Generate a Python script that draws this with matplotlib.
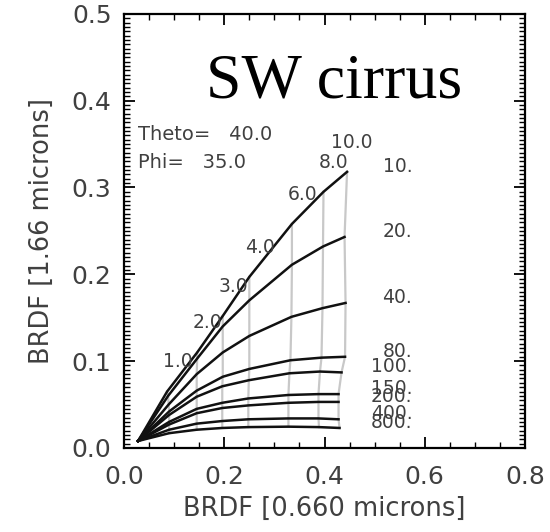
import matplotlib
matplotlib.use("Agg")
import matplotlib.pyplot as plt
from matplotlib.ticker import MultipleLocator, FormatStrFormatter

# Look-up table: BRDF at 0.660 um (x) vs 1.66 um (y) for each effective radius,
# sampled at the optical depths in TAU (first point is the clear-sky surface).
TAU = [0.0, 1.0, 2.0, 3.0, 4.0, 6.0, 8.0, 10.0]
TAU_LABELS = ["1.0", "2.0", "3.0", "4.0", "6.0", "8.0", "10.0"]

RADII = [10, 20, 40, 80, 100, 150, 200, 400, 800]
RADIUS_LABELS = ["10.", "20.", "40.", "80.", "100.", "150.", "200.", "400.", "800."]

x_r10 = [0.028, 0.086, 0.146, 0.197, 0.250, 0.335, 0.398, 0.445]
y_r10 = [0.008, 0.065, 0.110, 0.152, 0.197, 0.258, 0.295, 0.318]
x_r20 = [0.028, 0.088, 0.146, 0.197, 0.250, 0.335, 0.397, 0.440]
y_r20 = [0.008, 0.060, 0.103, 0.140, 0.170, 0.211, 0.232, 0.243]
x_r40 = [0.028, 0.089, 0.145, 0.197, 0.250, 0.334, 0.396, 0.442]
y_r40 = [0.008, 0.050, 0.085, 0.110, 0.129, 0.151, 0.161, 0.167]
x_r80 = [0.028, 0.090, 0.145, 0.197, 0.250, 0.332, 0.394, 0.441]
y_r80 = [0.008, 0.042, 0.066, 0.082, 0.091, 0.101, 0.104, 0.105]
x_r100 = [0.028, 0.090, 0.145, 0.196, 0.249, 0.330, 0.391, 0.434]
y_r100 = [0.008, 0.038, 0.059, 0.071, 0.078, 0.086, 0.088, 0.087]
x_r150 = [0.028, 0.090, 0.145, 0.196, 0.248, 0.328, 0.388, 0.428]
y_r150 = [0.008, 0.030, 0.045, 0.052, 0.057, 0.061, 0.062, 0.062]
x_r200 = [0.028, 0.090, 0.145, 0.196, 0.248, 0.328, 0.388, 0.428]
y_r200 = [0.008, 0.027, 0.040, 0.046, 0.049, 0.052, 0.053, 0.053]
x_r400 = [0.028, 0.090, 0.145, 0.196, 0.248, 0.328, 0.388, 0.428]
y_r400 = [0.008, 0.021, 0.028, 0.031, 0.033, 0.034, 0.034, 0.033]
x_r800 = [0.028, 0.090, 0.145, 0.196, 0.248, 0.328, 0.389, 0.430]
y_r800 = [0.008, 0.017, 0.021, 0.023, 0.024, 0.0245, 0.024, 0.023]

XS = [x_r10, x_r20, x_r40, x_r80, x_r100, x_r150, x_r200, x_r400, x_r800]
YS = [y_r10, y_r20, y_r40, y_r80, y_r100, y_r150, y_r200, y_r400, y_r800]

THETA0 = 40.0
PHI = 35.0

TEXT_C = "#404040"
GRAY = "#c8c8c8"

plt.rcParams.update({
    "font.family": "DejaVu Sans",
    "xtick.direction": "in",
    "ytick.direction": "in",
    "xtick.top": True,
    "ytick.right": True,
})

fig = plt.figure(figsize=(5.5, 5.32), dpi=100)
ax = fig.add_axes([0.2255, 0.158, 0.729, 0.816])

# constant optical depth lines (gray), skipping the surface point
for j in range(1, len(TAU)):
    ax.plot([xs[j] for xs in XS], [ys[j] for ys in YS],
            color=GRAY, lw=1.6, zorder=2)

# constant effective radius lines (black)
for xs, ys in zip(XS, YS):
    ax.plot(xs, ys, color="#111111", lw=1.8, zorder=3)

# optical depth labels along the smallest-radius curve
for j, lab in enumerate(TAU_LABELS, start=1):
    ax.text(x_r10[j] + 0.05, y_r10[j] + 0.028, lab, ha="right", va="baseline",
            fontsize=13.5, color=TEXT_C)

# effective radius labels at the right of each curve
for ys, lab in zip(YS, RADIUS_LABELS):
    ax.text(0.575, ys[-1], lab, ha="right", va="baseline",
            fontsize=13.5, color=TEXT_C)

ax.text(0.028, 0.355, f"Theto=   {THETA0:.1f}", fontsize=14, color=TEXT_C,
        va="baseline")
ax.text(0.028, 0.322, f"Phi=   {PHI:.1f}", fontsize=14, color=TEXT_C,
        va="baseline")

ax.text(0.42, 0.404, "SW cirrus", family="Liberation Serif", fontsize=46,
        ha="center", va="baseline", color="black")

ax.set_xlim(0, 0.8)
ax.set_ylim(0, 0.5)
ax.xaxis.set_major_locator(MultipleLocator(0.2))
ax.xaxis.set_minor_locator(MultipleLocator(0.05))
ax.yaxis.set_major_locator(MultipleLocator(0.1))
ax.yaxis.set_minor_locator(MultipleLocator(0.005))
ax.xaxis.set_major_formatter(FormatStrFormatter("%.1f"))
ax.yaxis.set_major_formatter(FormatStrFormatter("%.1f"))

ax.tick_params(which="major", length=8, width=1.3, labelsize=18,
               labelcolor=TEXT_C, pad=9)
ax.tick_params(which="minor", length=4, width=1.0)
ax.tick_params(axis="x", which="major", pad=12)
for sp in ax.spines.values():
    sp.set_linewidth(1.6)

ax.set_xlabel("BRDF [0.660 microns]", fontsize=18.5, color=TEXT_C, labelpad=5)
ax.set_ylabel("BRDF [1.66 microns]", fontsize=18.5, color=TEXT_C, labelpad=12)

fig.savefig("out.png", dpi=100)
